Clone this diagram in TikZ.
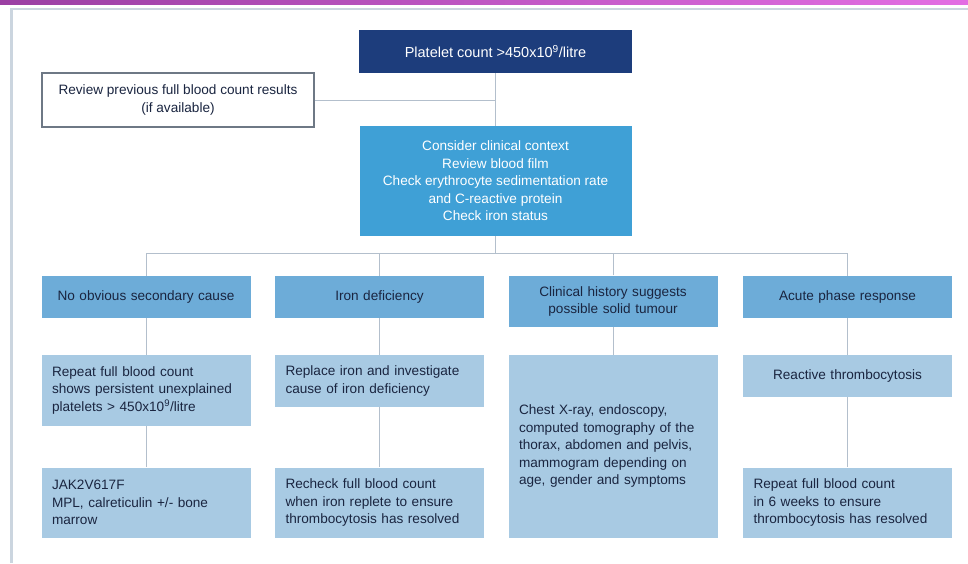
\documentclass[tikz,border=0pt]{standalone}
\usepackage{fontspec}
\setmainfont{Liberation Sans}
\definecolor{platenavy}{HTML}{1D3D7C}
\definecolor{checkblue}{HTML}{3FA0D6}
\definecolor{causeblue}{HTML}{6DACD8}
\definecolor{stepblue}{HTML}{A8CAE3}
\definecolor{inkdark}{HTML}{1A2540}
\definecolor{linkgrey}{HTML}{B3BFCC}
\definecolor{framegrey}{HTML}{CBD5DF}
\definecolor{reviewgrey}{HTML}{6E7885}
\definecolor{stripleft}{HTML}{9B3FA3}
\definecolor{stripright}{HTML}{E36EE3}
\tikzset{
  boxbase/.style={inner sep=0pt, font=\fontsize{13.6}{17.5}\selectfont},
  navybox/.style={boxbase, fill=platenavy, text=white, minimum width=273pt, minimum height=43pt, font=\fontsize{14.5}{17.5}\selectfont},
  reviewbox/.style={boxbase, fill=white, draw=reviewgrey, line width=1.2pt, text=inkdark, minimum width=272pt, minimum height=54pt, align=center},
  checkbox/.style={boxbase, fill=checkblue, text=white, minimum width=272pt, minimum height=110pt, align=center},
  causebox/.style={boxbase, fill=causeblue, text=inkdark, text width=188pt, inner xsep=10.5pt, align=center},
  stepbox/.style={boxbase, fill=stepblue, text=inkdark, text width=188pt, inner xsep=10.5pt, align=left},
  midstepbox/.style={stepbox, align=center},
  link/.style={draw=linkgrey, line width=0.8pt}
}
\begin{document}
\begin{tikzpicture}[x=1pt,y=-1pt]
            \useasboundingbox (0,0) rectangle (968,563);
            \fill[white] (0,0) rectangle (968,563);
            \shade[left color=stripleft, right color=stripright] (0,0) rectangle (968,4.5);
            \draw[framegrey, line width=2.5pt] (11.5,563) -- (11.5,9) -- (968,9);
            \node[navybox] (platelet) at (495.5,51.3) {Platelet count >450x10\textsuperscript{9}/litre};
            \node[reviewbox] (review) at (178,100) {Review previous full blood count results\\(if available)};
            \node[checkbox] (consider) at (495.5,181) {Consider clinical context\\Review blood film\\Check erythrocyte sedimentation rate\\and C-reactive protein\\Check iron status};
            \node[causebox, minimum height=42pt] (nocause) at (146,296.7) {No obvious secondary cause};
            \node[causebox, minimum height=42pt] (irondef) at (379.5,296.7) {Iron deficiency};
            \node[causebox, minimum height=51.3pt] (tumour) at (613,301.3) {Clinical history suggests\\possible solid tumour};
            \node[causebox, minimum height=42pt] (acute) at (847.5,296.7) {Acute phase response};
            \node[stepbox, minimum height=70.7pt] (repeat) at (146,390.3) {Repeat full blood count\\shows persistent unexplained\\platelets > 450x10\textsuperscript{9}/litre};
            \node[stepbox, minimum height=52pt] (replace) at (379.5,381) {Replace iron and investigate\\cause of iron deficiency};
            \node[stepbox, minimum height=182.7pt] (imaging) at (613,446.3) {Chest X-ray, endoscopy,\\computed tomography of the\\thorax, abdomen and pelvis,\\mammogram depending on\\age, gender and symptoms};
            \node[midstepbox, minimum height=42pt] (reactive) at (847.5,376) {Reactive thrombocytosis};
            \node[stepbox, minimum height=70.3pt] (jak) at (146,502.8) {JAK2V617F\\MPL, calreticulin +/- bone\\marrow};
            \node[stepbox, minimum height=70.3pt] (recheck) at (379.5,502.8) {Recheck full blood count\\when iron replete to ensure\\thrombocytosis has resolved};
            \node[stepbox, minimum height=70.3pt] (sixweeks) at (847.5,502.8) {Repeat full blood count\\in 6 weeks to ensure\\thrombocytosis has resolved};
            \coordinate (bus) at (495.5,253.5);
            \draw[link] (platelet) -- (consider);
            \draw[link] (review.east) -- (review.east -| platelet.south);
            \draw[link] (consider) -- (bus);
            \draw[link] (nocause.north) |- (bus) -| (acute.north);
            \draw[link] (irondef.north) -- (irondef.north |- bus);
            \draw[link] (tumour.north) -- (tumour.north |- bus);
            \draw[link] (nocause) -- (repeat) -- (jak);
            \draw[link] (irondef) -- (replace) -- (recheck);
            \draw[link] (tumour) -- (imaging);
            \draw[link] (acute) -- (reactive) -- (sixweeks);
         \end{tikzpicture}
\end{document}
